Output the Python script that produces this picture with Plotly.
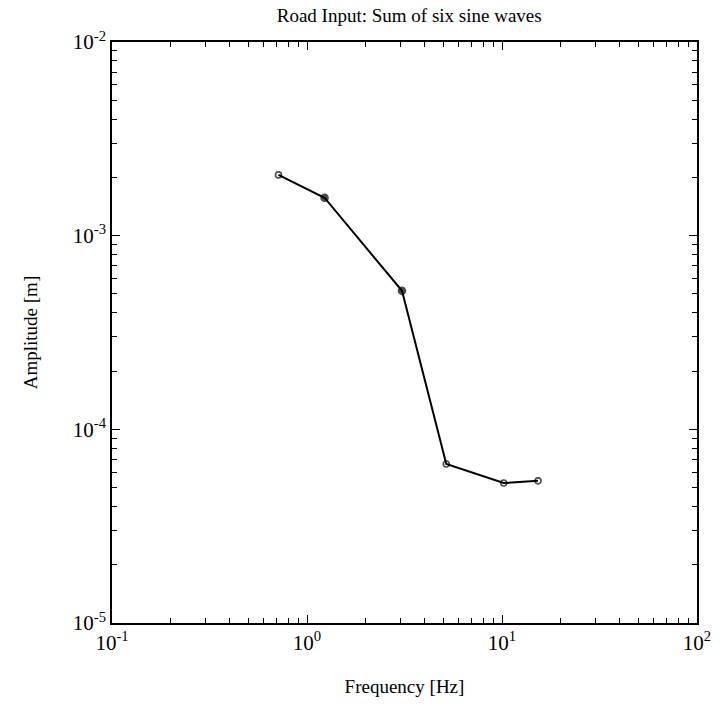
import plotly.graph_objects as go

freq_hz = [0.714, 1.23, 3.07, 5.18, 10.2, 15.3]
amplitude_m = [2.06e-3, 1.57e-3, 5.19e-4, 6.62e-5, 5.28e-5, 5.42e-5]
marker_filled = [False, True, True, False, False, False]

x_tick_exps = [-1, 0, 1, 2]
y_tick_exps = [-5, -4, -3, -2]
x_tick_labels = ["10<sup>-1</sup>", "10<sup>0</sup>", "10<sup>1</sup>", "10<sup>2</sup>"]
y_tick_labels = ["10<sup>-5</sup>", "10<sup>-4</sup>", "10<sup>-3</sup>", "10<sup>-2</sup>"]

font = "Liberation Serif"

x_major = [10.0 ** e for e in x_tick_exps]
y_major = [10.0 ** e for e in y_tick_exps]
x_minor = [m * 10.0 ** e for e in x_tick_exps[:-1] for m in range(2, 10)]
y_minor = [m * 10.0 ** e for e in y_tick_exps[:-1] for m in range(2, 10)]

fig = go.Figure()
fig.add_trace(go.Scatter(
    x=freq_hz, y=amplitude_m, mode="lines+markers",
    line=dict(color="black", width=2),
    marker=dict(
        symbol=["circle" if f else "circle-open" for f in marker_filled],
        size=[7 if f else 6 for f in marker_filled],
        color="black", line=dict(color="black", width=1.6)),
    showlegend=False,
))

axis_common = dict(
    type="log", showgrid=False, zeroline=False,
    showline=True, linecolor="black", linewidth=1.6,
    mirror="allticks", ticks="inside", ticklen=8, tickwidth=1.3, tickcolor="black",
    tickfont=dict(family=font, size=21, color="black"),
    ticklabeloverflow="allow",
)

fig.update_xaxes(
    **axis_common, range=[-1, 2], tickmode="array",
    tickvals=x_major, ticktext=x_tick_labels,
    minor=dict(tickmode="array", tickvals=x_minor, ticks="inside", ticklen=5,
               tickwidth=1.2, tickcolor="black", showgrid=False),
    title=dict(text="Frequency [Hz]", font=dict(family=font, size=19, color="black"), standoff=26),
)
fig.update_yaxes(
    **axis_common, range=[-5, -2], tickmode="array",
    tickvals=y_major, ticktext=y_tick_labels,
    minor=dict(tickmode="array", tickvals=y_minor, ticks="inside", ticklen=5,
               tickwidth=1.2, tickcolor="black", showgrid=False),
    title=dict(text="Amplitude [m]", font=dict(family=font, size=19, color="black"), standoff=30),
)

fig.update_layout(
    width=723, height=708,
    margin=dict(l=112, r=16, t=42, b=85),
    paper_bgcolor="white", plot_bgcolor="white",
    title=dict(text="Road Input: Sum of six sine waves", x=0.566, xanchor="center",
               y=0.988, yanchor="top", font=dict(family=font, size=19, color="black")),
)

fig.write_html("out.html")
